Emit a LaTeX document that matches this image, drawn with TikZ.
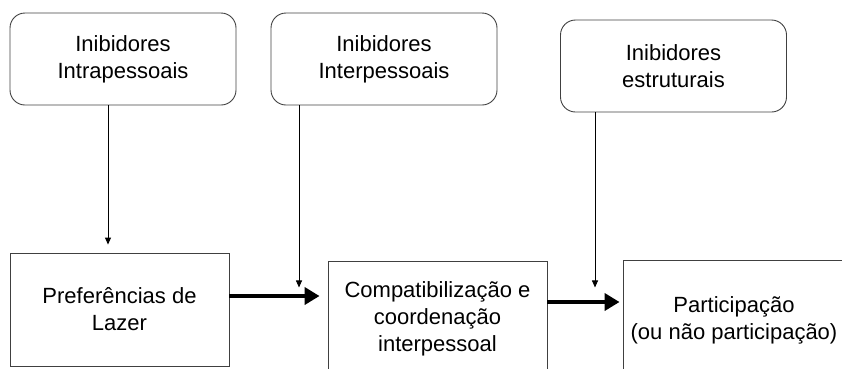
\documentclass[tikz,border=0pt]{standalone}
\usepackage{fontspec}
\setmainfont{Liberation Sans}
\usetikzlibrary{arrows.meta}

\begin{document}
\begin{tikzpicture}[x=1pt, y=-1pt,
	inib/.style={draw=black!75, line width=0.9pt, rounded corners=15pt, align=center, inner sep=0pt, minimum width=226pt, minimum height=92pt, font=\fontsize{22}{27}\selectfont},
	etapa/.style={draw=black!75, line width=0.9pt, align=center, inner sep=0pt, font=\fontsize{22}{27}\selectfont},
	fino/.style={line width=0.9pt, -{Triangle[length=7pt,width=6pt]}},
	grosso/.style={line width=4.5pt, -{Triangle[length=15pt,width=17pt]}}]
			%%%%% START %%%%%
			
			\useasboundingbox (0, 0) rectangle (842, 368);
			
			\node[inib] (intra) at (123, 59) {Inibidores\\Intrapessoais};
			\node[inib] (inter) at (384, 59) {Inibidores\\Interpessoais};
			\node[inib] (estru) at (673.5, 66) {Inibidores\\estruturais};
			
			\node[etapa, minimum width=219pt, minimum height=113pt] (pref) at (119.5, 309.5) {Preferências de\\Lazer};
			\node[etapa, minimum width=219pt, minimum height=115pt] (compat) at (437.5, 318.5) {Compatibilização e\\coordenação\\interpessoal};
			\node[etapa, minimum width=222pt, minimum height=120pt] (part) at (734, 320) {Participação\\(ou não participação)};
			
			\draw[grosso, shorten >=8pt] ([yshift=13.5pt]pref.east) -- ([yshift=13.5pt]pref.east -| compat.west);
			\draw[grosso, shorten >=3pt] ([yshift=16.5pt]compat.east) -- ([yshift=16.5pt]compat.east -| part.west);
			
			\draw[fino, shorten >=8pt] ([xshift=-15pt]intra.south) -- ([xshift=-15pt]intra.south |- pref.north);
			\draw[fino] ([xshift=-85pt]inter.south) -- ++(0, 182);
			\draw[fino] ([xshift=-78.5pt]estru.south) -- ++(0, 175);
			
			%%%%% END %%%%%
		\end{tikzpicture}
\end{document}
